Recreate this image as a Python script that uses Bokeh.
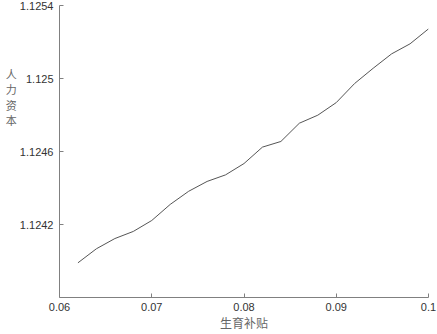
from bokeh.plotting import figure
from bokeh.models import Range1d, FixedTicker, CustomJSTickFormatter
from bokeh.embed import file_html
from bokeh.resources import INLINE

subsidy = [0.062, 0.064, 0.066, 0.068, 0.070, 0.072, 0.074, 0.076, 0.078, 0.080,
           0.082, 0.084, 0.086, 0.088, 0.090, 0.092, 0.094, 0.096, 0.098, 0.100]
human_capital = [1.12399, 1.124067, 1.124123, 1.124162, 1.124222, 1.12431, 1.124382,
                 1.124436, 1.124472, 1.124534, 1.124624, 1.124655, 1.124755, 1.124799,
                 1.124868, 1.124973, 1.125056, 1.125135, 1.12519, 1.125272]
x_ticks = [0.06, 0.07, 0.08, 0.09, 0.1]
y_ticks = [1.1242, 1.1246, 1.125, 1.1254]
x_label = "生育补贴"
y_label = "人力资本"

p = figure(frame_width=369, frame_height=292, output_backend="svg", toolbar_location=None,
           x_range=Range1d(0.06, 0.1), y_range=Range1d(1.1238, 1.1254),
           min_border_left=59, min_border_right=9, min_border_top=5, min_border_bottom=0)
p.outline_line_color = None
p.grid.visible = False
p.background_fill_color = "white"
p.border_fill_color = "white"

p.line(subsidy, human_capital, line_color="#555555", line_width=1)

for ax in (p.xaxis[0], p.yaxis[0]):
    ax.axis_line_color = "#808080"
    ax.major_tick_line_color = "#808080"
    ax.major_tick_in = 4
    ax.major_tick_out = 0
    ax.minor_tick_line_color = None
    ax.major_label_text_font = "Liberation Sans"
    ax.major_label_text_font_size = "11px"
    ax.major_label_text_color = "#333333"

p.xaxis.ticker = FixedTicker(ticks=x_ticks)
p.yaxis.ticker = FixedTicker(ticks=y_ticks)
p.xaxis.formatter = CustomJSTickFormatter(code="return tick.toFixed(2).replace(/0+$/, '');")
p.yaxis.formatter = CustomJSTickFormatter(code="return tick.toFixed(4).replace(/0+$/, '');")
p.xaxis.major_label_standoff = 5
p.yaxis.major_label_standoff = 6

p.xaxis.axis_label = x_label
p.xaxis.axis_label_text_font = "Noto Sans CJK SC"
p.xaxis.axis_label_text_font_style = "normal"
p.xaxis.axis_label_text_font_size = "12px"
p.xaxis.axis_label_text_color = "#666666"
p.xaxis.axis_label_standoff = 0

yax = p.yaxis[0]
yax.axis_label = "\n".join(list(y_label) + [" "] * 7)
yax.axis_label_orientation = "horizontal"
yax.axis_label_text_font = "Noto Sans CJK SC"
yax.axis_label_text_font_style = "normal"
yax.axis_label_text_font_size = "11px"
yax.axis_label_text_color = "#666666"
yax.axis_label_text_line_height = 0.97
yax.axis_label_standoff = 0

open("out.html", "w").write(file_html(p, INLINE))
